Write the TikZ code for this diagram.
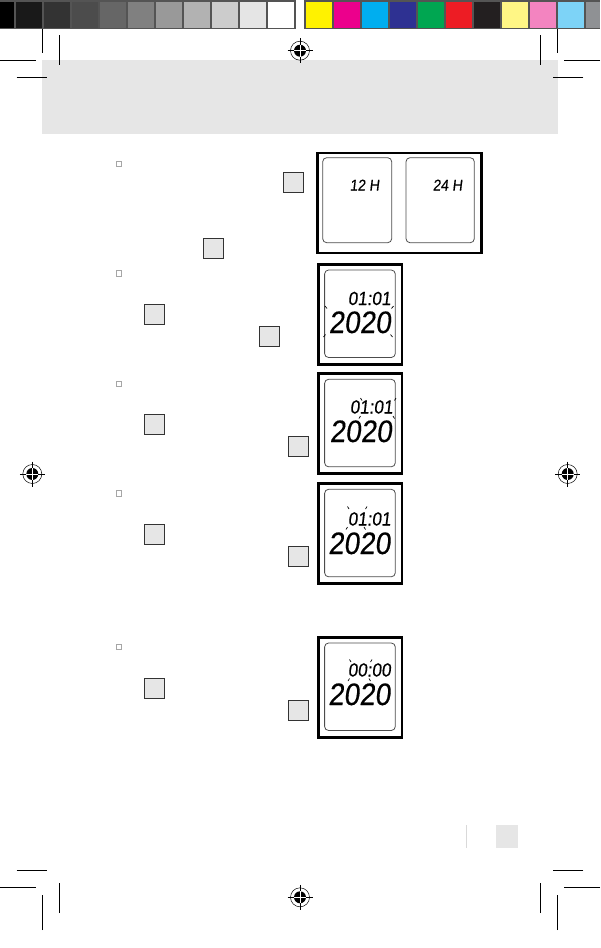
\documentclass[tikz,border=0pt]{standalone}
\usepackage{fontspec}
\usepackage{xcolor}
\usepackage{tikz}
\usetikzlibrary{calc, positioning}

\newfontfamily\lcdfont[FakeSlant=0.12, FakeStretch=0.9, FakeBold=0.4]{Liberation Sans}

\definecolor{boxgray}{HTML}{E6E6E6}
\definecolor{cyel}{HTML}{FFF200}
\definecolor{cmag}{HTML}{EC008C}
\definecolor{ccya}{HTML}{00AEEF}
\definecolor{cblu}{HTML}{2E3192}
\definecolor{cgre}{HTML}{00A651}
\definecolor{cred}{HTML}{ED1C24}
\definecolor{cblk}{HTML}{231F20}
\definecolor{clye}{HTML}{FFF685}
\definecolor{cpnk}{HTML}{F384C0}
\definecolor{clbl}{HTML}{7DD3F7}
\definecolor{cgry}{HTML}{8F9194}

\begin{document}
\begin{tikzpicture}[x=1pt, y=-1pt,
    cropline/.style={line width=0.7pt},
    btn/.style={draw=black!80, fill=boxgray, line width=0.8pt},
    chk/.style={draw=black!35, line width=0.5pt},
    lcdframe/.style={draw=black, line width=2.6pt},
    lcdpanel/.style={draw=black!70, line width=0.8pt, rounded corners=4pt},
    blinkmark/.style={line width=0.7pt},
    lcdtext/.style={inner sep=0pt, anchor=base east, text depth=0pt},
    bigdigit/.style={lcdtext, text height=22pt, font=\lcdfont\fontsize{31}{31}\selectfont},
    smalldigit/.style={lcdtext, text height=13.5pt, font=\lcdfont\fontsize{19}{19}\selectfont},
    modedigit/.style={lcdtext, text height=11pt, font=\lcdfont\fontsize{15.5}{15.5}\selectfont}]

    \useasboundingbox (0,0) rectangle (600,948);

    % =================================================================
    % 1. NỀN XÁM PHÍA TRÊN VÀ CÁC DẤU CẮT Ở BỐN GÓC
    % =================================================================
    \fill[boxgray] (41.7,60) rectangle (558.3,134);

    % Dấu cắt: vẽ một góc rồi lấy đối xứng
    \foreach \sx/\dx/\sy/\dy in {1/0/1/0, -1/600/1/0, 1/0/-1/-948, -1/600/-1/-948}
    {
        \begin{scope}[xshift=\dx pt, xscale=\sx, yshift=\dy pt, yscale=\sy]
            \draw[cropline] (42.3,18) -- (42.3,53.3);
            \draw[cropline] (59.3,35) -- (59.3,65);
            \draw[cropline] (0,60.7) -- (36,60.7);
            \draw[cropline] (16.7,77.3) -- (46.7,77.3);
        \end{scope}
    }

    % =================================================================
    % 2. THANG MÀU IN Ở MÉP TRÊN
    % =================================================================
    % Thang xám
    \fill[black!67] (0,0) rectangle (295.5,29.3);
    \foreach \i [evaluate=\i as \k using int(100-10*\i)] in {0,...,10}
        \fill[black!\k] ({max(0,-12.3+28*\i)},1.7) rectangle ({13.7+28*\i},27.7);

    % Thang màu
    \fill[black!67] (304.2,0) rectangle (600,29.3);
    \foreach \c [count=\j from 0] in {cyel,cmag,ccya,cblu,cgre,cred,cblk,clye,cpnk,clbl,cgry}
        \fill[\c] ({306.2+27.95*\j},1.7) rectangle ({min(600,332.2+27.95*\j)},27.7);

    % Dấu chồng màu (trên, dưới, trái, phải)
    \foreach \px/\py in {300/50.7, 300/897.3, 32.3/474, 567.7/474}
    {
        \begin{scope}[shift={(\px,\py)}]
            \draw[line width=0.5pt] (0,0) circle (9.5);
            \fill (0,0) circle (6);
            \draw[line width=0.7pt] (-12.5,0) -- (12.5,0) (0,-12.5) -- (0,12.5);
            \draw[white, line width=0.7pt] (-6,0) -- (6,0) (0,-6) -- (0,6);
        \end{scope}
    }

    % =================================================================
    % 3. Ô ĐÁNH DẤU VÀ CÁC PHÍM BẤM
    % =================================================================
    \foreach \y in {164,273.3,384,493.3,646.7}
        \draw[chk] (116.3,\y-2.7) rectangle ++(5.4,5.4);

    \foreach \x/\y in {283.3/172.3, 203.3/238.3, 144.3/304.3, 259.3/326.7,
                       144.3/414.3, 288.3/436, 144.3/524.3, 288.3/546,
                       144.3/678.3, 288.3/700}
        \draw[btn] (\x,\y) rectangle ++(20,20);

    % =================================================================
    % 4. CÁC MÀN HÌNH LCD
    % =================================================================
    % Màn hình 12H / 24H
    \draw[lcdframe] (317.3,153) rectangle (481.4,253);
    \draw[lcdpanel] (322.7,157.7) rectangle (391.7,242.7);
    \draw[lcdpanel] (406,157.7) rectangle (474.3,242.7);
    \node[modedigit] (mode12) at (379.5,190.5) {12 H};
    \node[modedigit] (mode24) at (462.5,190.5) {24 H};

    % Bốn màn hình ngày giờ
    \foreach \y in {263,372.3,482.3,636}
    {
        \draw[lcdframe] (318.3,\y+1.3) rectangle (402,\y+101.2);
        \draw[lcdpanel] (324.6,\y+7) rectangle ++(70.7,87.5);
    }

    % Năm nhấp nháy
    \node[smalldigit] (date2) at (391,305) {01:01};
    \node[bigdigit] (year2) at (391,333) {2020};
    \draw[blinkmark] (327,308.5) -- ++(-2,-2.5);
    \draw[blinkmark] (391.5,308.5) -- ++(2,-2.5);
    \draw[blinkmark] (325.5,334.5) -- ++(-2,2.5);
    \draw[blinkmark] (390.5,334.5) -- ++(2,2.5);

    % Ngày nhấp nháy
    \node[smalldigit] (date3) at (393,413.5) {01:01};
    \node[bigdigit] (year3) at (392,442) {2020};
    \draw[blinkmark] (362,400.5) -- ++(-1.5,-2.5);
    \draw[blinkmark] (394.5,400.5) -- ++(1.5,-2.5);
    \draw[blinkmark] (360.5,416) -- ++(-1.5,2.5);
    \draw[blinkmark] (393,416) -- ++(1.5,2.5);

    % Tháng nhấp nháy
    \node[smalldigit] (date4) at (391,525.5) {01:01};
    \node[bigdigit] (year4) at (390.5,554) {2020};
    \draw[blinkmark] (349,509) -- ++(-1.5,-2.5);
    \draw[blinkmark] (365.5,509) -- ++(1.5,-2.5);
    \draw[blinkmark] (347.5,527) -- ++(-1.5,2.5);
    \draw[blinkmark] (364,527) -- ++(1.5,2.5);

    % Giờ nhấp nháy
    \node[smalldigit] (time5) at (391,676.5) {00:00};
    \node[bigdigit] (year5) at (390.5,705) {2020};
    \draw[blinkmark] (351,662) -- ++(-1.5,-2.5);
    \draw[blinkmark] (370.5,662) -- ++(1.5,-2.5);
    \draw[blinkmark] (349.5,678.5) -- ++(-1.5,2.5);
    \draw[blinkmark] (369,678.5) -- ++(1.5,2.5);

    % =================================================================
    % 5. Ô SỐ TRANG
    % =================================================================
    \draw[black!15, line width=0.6pt] (466,825) -- (466,848);
    \fill[boxgray] (495.6,825) rectangle (517.8,847.7);

\end{tikzpicture}
\end{document}
